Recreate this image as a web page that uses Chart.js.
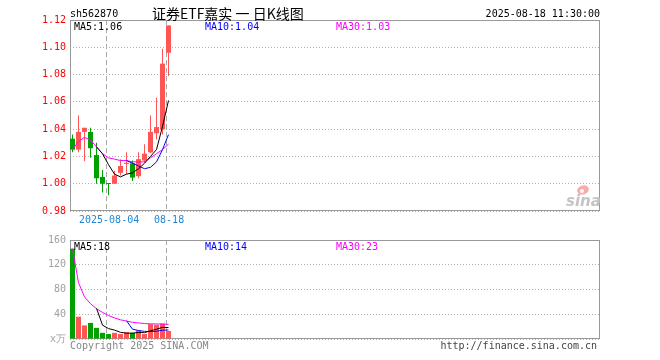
<!DOCTYPE html>
<html><head><meta charset="utf-8">
<script src="https://cdn.jsdelivr.net/npm/chart.js@4.4.1/dist/chart.umd.min.js"></script>
<style>
html,body{margin:0;padding:0;background:#fff;}
#wrap{position:relative;width:660px;height:360px;overflow:hidden;background:#fff;}
canvas{position:absolute;left:0;}
#c1{top:0;} #c2{top:230px;}
</style></head><body>
<div id="wrap"><canvas id="c1" width="660" height="230"></canvas><canvas id="c2" width="660" height="130"></canvas></div>
<script>
// ---------- data ----------
const dates = ['2025-07-25','2025-07-28','2025-07-29','2025-07-30','2025-07-31','2025-08-01','2025-08-04','2025-08-05','2025-08-06','2025-08-07','2025-08-08','2025-08-11','2025-08-12','2025-08-13','2025-08-14','2025-08-15','2025-08-18'];
const open  = [1.033, 1.025, 1.038, 1.038, 1.021, 1.005, 1.0005, 1.000, 1.008, 1.0145, 1.015, 1.0055, 1.017, 1.023, 1.037, 1.040, 1.096];
const close = [1.025, 1.038, 1.041, 1.026, 1.004, 1.000, 0.9998, 1.006, 1.013, 1.0153, 1.0045, 1.018, 1.022, 1.038, 1.0415, 1.088, 1.116];
const high  = [1.036, 1.050, 1.041, 1.041, 1.030, 1.010, 1.0006, 1.0095, 1.018, 1.023, 1.017, 1.023, 1.029, 1.050, 1.063, 1.099, 1.116];
const low   = [1.023, 1.023, 1.0165, 1.019, 1.000, 0.9935, 0.9915, 1.000, 1.006, 1.007, 1.002, 1.004, 1.0155, 1.0225, 1.0325, 1.036, 1.079];
const ma5   = [null, null, null, null, 1.027, 1.022, 1.014, 1.007, 1.005, 1.007, 1.008, 1.011, 1.015, 1.020, 1.025, 1.042, 1.061];
const ma10  = [null, null, null, null, null, null, null, null, null, 1.017, 1.015, 1.013, 1.011, 1.012, 1.016, 1.025, 1.036];
const ma30  = [1.025, 1.031, 1.034, 1.032, 1.027, 1.022, 1.019, 1.018, 1.017, 1.017, 1.016, 1.016, 1.016, 1.019, 1.022, 1.025, 1.029];
const volume = [146, 36, 22, 26, 18, 10, 8, 10, 8, 11, 10, 14, 8, 24, 23, 25, 13];
const volMa5  = [null, null, null, null, 49.6, 22.4, 16.8, 14.4, 10.8, 9.4, 9.4, 10.6, 10.2, 13.4, 15.8, 18.8, 18.6];
const volMa10 = [null, null, null, null, null, null, null, null, null, 29.5, 15.9, 13.7, 12.3, 12.1, 12.6, 14.1, 14.6];
const volMa30 = [146, 91, 68, 57, 49, 43, 38, 34, 31, 29, 27, 26, 25, 24.5, 24.3, 24.2, 23.6];
const priceTicks = [0.98, 1.00, 1.02, 1.04, 1.06, 1.08, 1.10, 1.12];
const volTicks = [0, 40, 80, 120, 160];
const volUnit = 'x万';
const dateTickIdx = [6, 16];
const dateTickLabels = ['2025-08-04', '08-18'];
const code = 'sh562870';
const title = '证券ETF嘉实 一 日K线图';
const stamp = '2025-08-18 11:30:00';

// ---------- styles ----------
const MONO = '"DejaVu Sans Mono","Liberation Mono",monospace';
const UP = '#ff5555', DOWN = '#00a000';
const C5 = '#000000', C10 = '#0000ff', C30 = '#ff00ff';
const X_MIN = -2.5/6, X_MAX = 530/6 - 2.5/6;   // 6px per trading-day slot
const LINE_SHIFT = -0.4;

const candleColor = close.map((c,i) => c >= open[i] ? UP : DOWN);
const pts = arr => arr.map((v,i) => v == null ? null : {x:i, y:v}).filter(p => p);
const last = arr => arr[arr.length-1];

function txt(ctx, s, x, y, color, font, align){
  ctx.save(); ctx.fillStyle = color; ctx.font = font; ctx.textAlign = align || 'left';
  ctx.textBaseline = 'middle'; ctx.fillText(s, x, y); ctx.restore();
}
const framePlugin = {
  id: 'frame',
  beforeDatasetsDraw(chart){
    const {ctx, chartArea:a} = chart;
    ctx.save(); ctx.strokeStyle = '#999'; ctx.lineWidth = 1;
    ctx.strokeRect(a.left+0.5, a.top+0.5, a.right-a.left-1, a.bottom-a.top-1);
    ctx.restore();
  }
};
function lineDS(arr, color){
  return {type:'line', data:pts(arr), borderColor:color, borderWidth:1, pointRadius:0, tension:0, fill:false, order:0};
}
const xScale = (h, showLabels) => ({
  type:'linear', min:X_MIN, max:X_MAX, position:'bottom', offset:false, bounds:'data',
  afterBuildTicks: s => { s.ticks = dateTickIdx.map(i => ({value: i + LINE_SHIFT})); },
  afterFit: s => { s.height = h; },
  ticks:{display:showLabels, autoSkip:false, maxRotation:0, minRotation:0, color:'#1f86d6',
         font:{family:MONO,size:10}, padding:3, labelOffset:3, callback:(v,i) => dateTickLabels[i]},
  grid:{color:'#a8a8a8', lineWidth:1, drawTicks:false, offset:false},
  border:{display:false, dash:[5,3]}
});
const common = {
  responsive:false, animation:false, events:[],
  plugins:{legend:{display:false}, tooltip:{enabled:false}}
};

// ---------- price chart ----------
new Chart(document.getElementById('c1'), {
  type:'bar',
  data:{datasets:[
    lineDS(ma5, C5), lineDS(ma10, C10), lineDS(ma30, C30),
    {data: dates.map((d,i) => ({x:i, y:[open[i], close[i]]})), backgroundColor:candleColor,
     barThickness:5, grouped:false, inflateAmount:0, order:1},
    {data: dates.map((d,i) => ({x:i, y:[low[i], high[i]]})), backgroundColor:candleColor,
     barThickness:1, grouped:false, inflateAmount:0, order:2}
  ]},
  options:Object.assign({}, common, {
    layout:{padding:{left:0, right:60, top:20, bottom:0}},
    scales:{
      x: xScale(19, true),
      y:{type:'linear', min:0.98, max:1.12,
         afterBuildTicks: s => { s.ticks = priceTicks.map(v => ({value:v})); },
         afterFit: s => { s.width = 70; },
         ticks:{color:'#ff0000', font:{family:MONO,size:10}, padding:4, callback:v => v.toFixed(2)},
         grid:{color:'#b4b4b4', drawTicks:false}, border:{display:false, dash:[1,2]}}
    }
  }),
  plugins:[framePlugin, {
    id:'texts1',
    afterDraw(chart){
      const ctx = chart.ctx, f = '10px ' + MONO;
      txt(ctx, code, 70, 14, '#000', f);
      txt(ctx, title, 152, 14, '#000', '14px "Noto Sans CJK SC"');
      txt(ctx, stamp, 600, 14, '#000', f, 'right');
      txt(ctx, 'MA5:' + last(ma5).toFixed(2), 74, 27, C5, f);
      txt(ctx, 'MA10:' + last(ma10).toFixed(2), 205, 27, C10, f);
      txt(ctx, 'MA30:' + last(ma30).toFixed(2), 336, 27, C30, f);
      // sina watermark
      ctx.save();
      ctx.fillStyle = 'rgba(245,150,150,0.8)';
      ctx.beginPath(); ctx.ellipse(583, 190, 6, 4.5, -0.3, 0, Math.PI*2); ctx.fill();
      ctx.fillStyle = '#fff'; ctx.beginPath(); ctx.arc(582, 191, 2, 0, Math.PI*2); ctx.fill();
      ctx.restore();
      txt(ctx, 'sina', 566, 202, '#c4c4c4', 'italic bold 15px "DejaVu Sans"');
    }
  }]
});

// ---------- volume chart ----------
new Chart(document.getElementById('c2'), {
  type:'bar',
  data:{datasets:[
    lineDS(volMa5, C5), lineDS(volMa10, C10), lineDS(volMa30, C30),
    {data: pts(volume), backgroundColor:candleColor, barThickness:5, grouped:false, inflateAmount:0, order:1}
  ]},
  options:Object.assign({}, common, {
    layout:{padding:{left:0, right:60, top:10, bottom:0}},
    scales:{
      x: xScale(21, false),
      y:{type:'linear', min:0, max:160,
         afterBuildTicks: s => { s.ticks = volTicks.map(v => ({value:v})); },
         afterFit: s => { s.width = 70; },
         ticks:{color:'#a0a0a0', font:{family:MONO,size:10}, padding:4, callback:v => v === 0 ? volUnit : String(v)},
         grid:{color:'#b4b4b4', drawTicks:false}, border:{display:false, dash:[1,2]}}
    }
  }),
  plugins:[framePlugin, {
    id:'texts2',
    afterDraw(chart){
      const ctx = chart.ctx, f = '10px ' + MONO;
      txt(ctx, 'MA5:' + Math.floor(last(volMa5)), 74, 17, C5, f);
      txt(ctx, 'MA10:' + Math.floor(last(volMa10)), 205, 17, C10, f);
      txt(ctx, 'MA30:' + Math.floor(last(volMa30)), 336, 17, C30, f);
      txt(ctx, 'Copyright 2025 SINA.COM', 70, 116, '#888', f);
      txt(ctx, 'http://finance.sina.com.cn', 597, 116, '#444', f, 'right');
    }
  }]
});
</script>
</body></html>
